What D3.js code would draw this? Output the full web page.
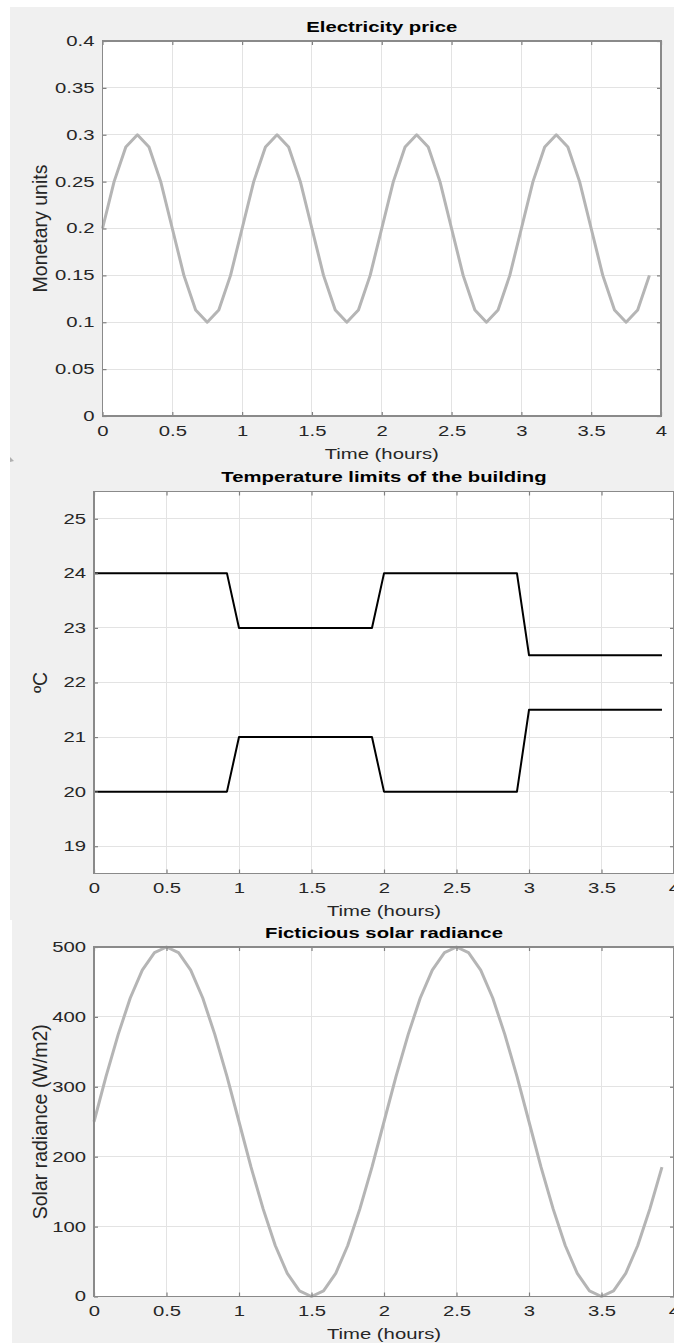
<!DOCTYPE html>
<html>
<head>
<script src="https://d3js.org/d3.v7.min.js"></script>
<style type="text/css">
	body { margin: 0; background: #fff; }
	svg { font-family: "Liberation Sans", Arial, sans-serif; }
	.grid line { stroke: #e3e3e3; stroke-width: 1; shape-rendering: crispEdges; }
	.axis path { display: none; }
	.axis line { stroke: #808080; stroke-width: 1.2; }
	.axis text { fill: #262626; font-size: 14px; }
	.box { fill: #fff; stroke: #8a8a8a; stroke-width: 1.5; shape-rendering: crispEdges; }
	.title { font-size: 14px; font-weight: bold; fill: #000; }
	.label { font-size: 14px; fill: #262626; }
	.ylabel { font-size: 19.5px; fill: #262626; }
</style>
</head>
<body>
<script type="text/javascript">
	// time stamps (hours), one every 5 minutes
	var hours = [0, 0.083, 0.167, 0.25, 0.333, 0.417, 0.5, 0.583, 0.667, 0.75, 0.833, 0.917,
		1, 1.083, 1.167, 1.25, 1.333, 1.417, 1.5, 1.583, 1.667, 1.75, 1.833, 1.917,
		2, 2.083, 2.167, 2.25, 2.333, 2.417, 2.5, 2.583, 2.667, 2.75, 2.833, 2.917,
		3, 3.083, 3.167, 3.25, 3.333, 3.417, 3.5, 3.583, 3.667, 3.75, 3.833, 3.917];

	var price = [0.2, 0.25, 0.287, 0.3, 0.287, 0.25, 0.2, 0.15, 0.113, 0.1, 0.113, 0.15,
		0.2, 0.25, 0.287, 0.3, 0.287, 0.25, 0.2, 0.15, 0.113, 0.1, 0.113, 0.15,
		0.2, 0.25, 0.287, 0.3, 0.287, 0.25, 0.2, 0.15, 0.113, 0.1, 0.113, 0.15,
		0.2, 0.25, 0.287, 0.3, 0.287, 0.25, 0.2, 0.15, 0.113, 0.1, 0.113, 0.15];

	var radiance = [250, 315, 375, 427, 467, 492, 500, 492, 467, 427, 375, 315,
		250, 185, 125, 73, 33, 8, 0, 8, 33, 73, 125, 185,
		250, 315, 375, 427, 467, 492, 500, 492, 467, 427, 375, 315,
		250, 185, 125, 73, 33, 8, 0, 8, 33, 73, 125, 185];

	var tempHours = [0, 0.917, 1, 1.917, 2, 2.917, 3, 3.917];
	var tempUpper = [24, 24, 23, 23, 24, 24, 22.5, 22.5];
	var tempLower = [20, 20, 21, 21, 20, 20, 21.5, 21.5];

	var xTicks = [0, 0.5, 1, 1.5, 2, 2.5, 3, 3.5, 4];
	var xTickLabels = ["0", "0.5", "1", "1.5", "2", "2.5", "3", "3.5", "4"];
	var priceTicks = [0, 0.05, 0.1, 0.15, 0.2, 0.25, 0.3, 0.35, 0.4];
	var priceTickLabels = ["0", "0.05", "0.1", "0.15", "0.2", "0.25", "0.3", "0.35", "0.4"];
	var tempTicks = [19, 20, 21, 22, 23, 24, 25];
	var radianceTicks = [0, 100, 200, 300, 400, 500];

	var W = 674, H = 1343;
	var sx = 1.45; // the screenshot is stretched sideways

	var panels = [
		{ title: "Electricity price", ylabel: "Monetary units", left: 102.5, right: 661, top: 41, bottom: 416,
			yDomain: [0, 0.4], yTicks: priceTicks, yFmt: function (d, i) { return priceTickLabels[i]; },
			series: [{ y: price, x: hours, color: "#b5b5b5", width: 3 }] },
		{ title: "Temperature limits of the building", ylabel: "\u00baC", left: 94, right: 674, top: 491.5, bottom: 873.5,
			yDomain: [18.5, 25.5], yTicks: tempTicks, yFmt: function (d) { return d; },
			series: [{ y: tempUpper, x: tempHours, color: "#000", width: 2 },
				{ y: tempLower, x: tempHours, color: "#000", width: 2 }] },
		{ title: "Ficticious solar radiance", ylabel: "Solar radiance (W/m2)", left: 94, right: 674, top: 947, bottom: 1296.5,
			yDomain: [0, 500], yTicks: radianceTicks, yFmt: function (d) { return d; },
			series: [{ y: radiance, x: hours, color: "#b5b5b5", width: 3 }] }
	];

	var svg = d3.select("body").append("svg")
		.attr("width", W)
		.attr("height", H);

	// grey figure background, white strips on top and left
	svg.append("rect").attr("x", 10).attr("y", 7).attr("width", W - 10).attr("height", H - 7).attr("fill", "#f0f0f0");
	svg.append("rect").attr("x", 0).attr("y", 920).attr("width", 12).attr("height", H - 920).attr("fill", "#fff");
	// small leftover corner mark from the screenshot
	svg.append("path").attr("d", "M10,457 L14,461 L10,462 Z").attr("fill", "#b0b0b0");

	panels.forEach(function (p) {
		var x = d3.scaleLinear().domain([0, 4]).range([p.left, p.right]);
		var y = d3.scaleLinear().domain(p.yDomain).range([p.bottom, p.top]);
		var g = svg.append("g");

		g.append("rect").attr("class", "box")
			.attr("x", p.left).attr("y", p.top)
			.attr("width", p.right - p.left).attr("height", p.bottom - p.top)
			.style("stroke", "none");

		var grid = g.append("g").attr("class", "grid");
		grid.selectAll(".gx").data(xTicks).enter().append("line")
			.attr("x1", function (d) { return x(d); }).attr("x2", function (d) { return x(d); })
			.attr("y1", p.top).attr("y2", p.bottom);
		grid.selectAll(".gy").data(p.yTicks).enter().append("line")
			.attr("y1", function (d) { return y(d); }).attr("y2", function (d) { return y(d); })
			.attr("x1", p.left).attr("x2", p.right);

		// data lines
		p.series.forEach(function (s) {
			var line = d3.line()
				.x(function (d, i) { return x(s.x[i]); })
				.y(function (d) { return y(d); });
			g.append("path")
				.datum(s.y)
				.attr("fill", "none")
				.attr("stroke", s.color)
				.attr("stroke-width", s.width)
				.attr("stroke-linejoin", "round")
				.attr("d", line);
		});

		// axes with inward ticks on all four sides
		var bottom = g.append("g").attr("class", "axis")
			.attr("transform", "translate(0," + p.bottom + ")")
			.call(d3.axisBottom(x).tickValues(xTicks).tickFormat(function (d, i) { return xTickLabels[i]; })
				.tickSizeInner(-4).tickSizeOuter(0).tickPadding(10));
		bottom.selectAll("text").attr("transform", "scale(" + sx + ",1)");

		var leftAx = g.append("g").attr("class", "axis")
			.attr("transform", "translate(" + p.left + ",0)")
			.call(d3.axisLeft(y).tickValues(p.yTicks).tickFormat(p.yFmt)
				.tickSizeInner(-4).tickSizeOuter(0));
		leftAx.selectAll("text").attr("x", -8 / sx).attr("transform", "scale(" + sx + ",1)");

		g.append("g").attr("class", "axis")
			.attr("transform", "translate(0," + p.top + ")")
			.call(d3.axisTop(x).tickValues(xTicks).tickFormat("").tickSizeInner(-4).tickSizeOuter(0));
		g.append("g").attr("class", "axis")
			.attr("transform", "translate(" + p.right + ",0)")
			.call(d3.axisRight(y).tickValues(p.yTicks).tickFormat("").tickSizeInner(-4).tickSizeOuter(0));

		g.append("rect").attr("class", "box")
			.attr("x", p.left).attr("y", p.top)
			.attr("width", p.right - p.left).attr("height", p.bottom - p.top)
			.style("fill", "none");

		var cx = (p.left + p.right) / 2;
		var cy = (p.top + p.bottom) / 2;

		g.append("text").attr("class", "title")
			.attr("text-anchor", "middle")
			.attr("dy", "0.35em")
			.attr("transform", "translate(" + cx + "," + (p.top - 14) + ") scale(" + sx + ",1)")
			.text(p.title);

		g.append("text").attr("class", "label")
			.attr("text-anchor", "middle")
			.attr("dy", "0.35em")
			.attr("transform", "translate(" + cx + "," + (p.bottom + 38) + ") scale(" + sx + ",1)")
			.text("Time (hours)");

		g.append("text").attr("class", "ylabel")
			.attr("text-anchor", "middle")
			.attr("dy", "0.35em")
			.attr("transform", "translate(40," + cy + ") rotate(-90)")
			.text(p.ylabel);
	});
</script>
</body>
</html>
